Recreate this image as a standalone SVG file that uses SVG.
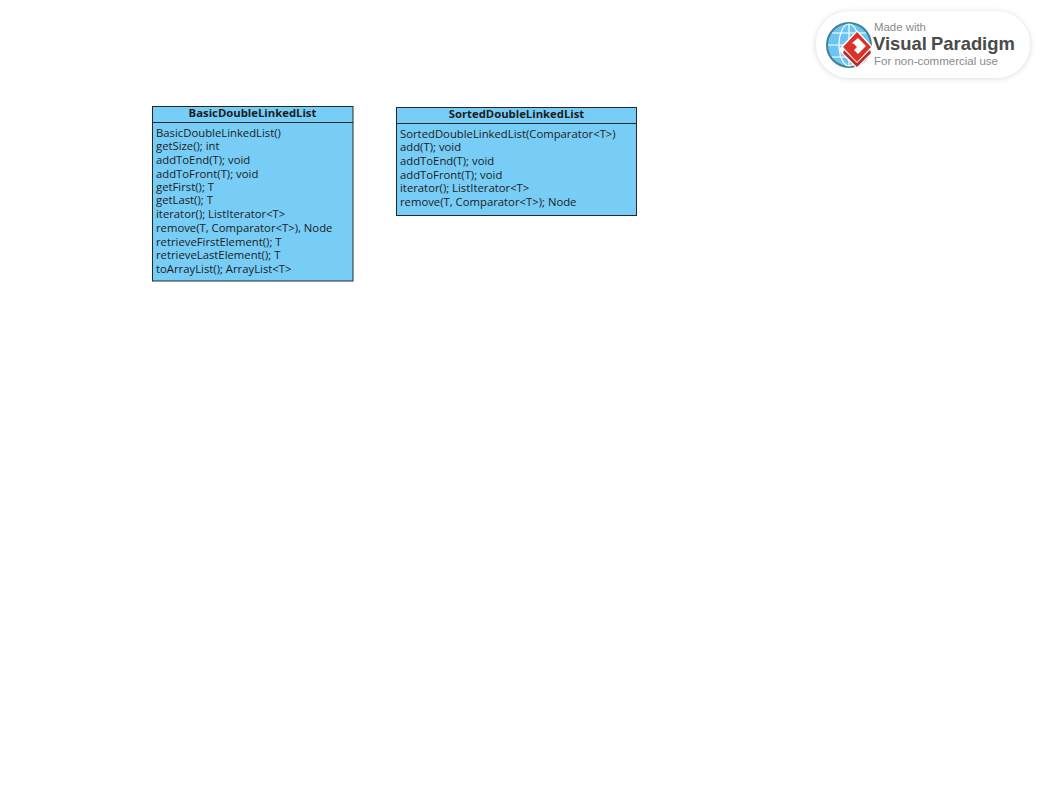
<svg xmlns="http://www.w3.org/2000/svg" width="1040" height="804" viewBox="0 0 1040 804">
<style>
text{font-family:"Open Sans","Noto Sans","DejaVu Sans",sans-serif;fill:#1c1c1c}
.box{fill:#77cdf6;stroke:#1f2a30;stroke-width:1}
.sep{stroke:#1f2a30;stroke-width:1}
.title{font-size:11.3px;font-weight:700;text-anchor:middle}
.m{font-size:11.3px}
.logo{font-family:"Liberation Sans",Arial,sans-serif}
</style>
<defs>
<filter id="soft" x="-20%" y="-30%" width="140%" height="160%"><feGaussianBlur stdDeviation="3"/></filter>
<filter id="b" x="-10%" y="-10%" width="120%" height="120%"><feGaussianBlur stdDeviation="0.5"/></filter>
</defs>
<rect width="1040" height="804" fill="#ffffff"/>
<g id="BasicDoubleLinkedList">
<rect class="box" x="152.500" y="106.500" width="200.500" height="174.500"/>
<line class="sep" x1="152.500" y1="122.500" x2="353" y2="122.500"/>
<text class="title" x="252.500" y="117">BasicDoubleLinkedList</text>
<text class="m" x="156" y="137">BasicDoubleLinkedList()</text>
<text class="m" x="156" y="150">getSize(); int</text>
<text class="m" x="156" y="164">addToEnd(T); void</text>
<text class="m" x="156" y="178">addToFront(T); void</text>
<text class="m" x="156" y="191">getFirst(); T</text>
<text class="m" x="156" y="204">getLast(); T</text>
<text class="m" x="156" y="218">iterator(); ListIterator&lt;T&gt;</text>
<text class="m" x="156" y="232">remove(T, Comparator&lt;T&gt;), Node</text>
<text class="m" x="156" y="246">retrieveFirstElement(); T</text>
<text class="m" x="156" y="259">retrieveLastElement(); T</text>
<text class="m" x="156" y="273">toArrayList(); ArrayList&lt;T&gt;</text>
</g>
<g id="SortedDoubleLinkedList">
<rect class="box" x="396.500" y="107.500" width="240" height="108"/>
<line class="sep" x1="396.500" y1="123.500" x2="636.500" y2="123.500"/>
<text class="title" x="516.500" y="118">SortedDoubleLinkedList</text>
<text class="m" x="400" y="138">SortedDoubleLinkedList(Comparator&lt;T&gt;)</text>
<text class="m" x="400" y="151">add(T); void</text>
<text class="m" x="400" y="165">addToEnd(T); void</text>
<text class="m" x="400" y="179">addToFront(T); void</text>
<text class="m" x="400" y="192">iterator(); ListIterator&lt;T&gt;</text>
<text class="m" x="400" y="206">remove(T, Comparator&lt;T&gt;); Node</text>
</g>
<g id="connectors"></g>
<g id="badge">
<rect x="816" y="12" width="214" height="66" rx="33" fill="#000" opacity="0.16" filter="url(#soft)"/>
<rect x="816" y="11" width="214" height="67" rx="33" fill="#fff"/>
<g filter="url(#b)">
<circle cx="849" cy="45" r="22" fill="#6cc4f4" stroke="#3f8296" stroke-width="2"/>
<g fill="none" stroke="#fff" stroke-width="1.200">
<ellipse cx="849" cy="45" rx="10" ry="21"/>
<line x1="849" y1="24" x2="849" y2="66"/>
<line x1="828" y1="45" x2="870" y2="45"/>
<path d="M832 33H866M832 57H866"/>
</g>
<path d="M857 30L874 48L874 52L857 69L840 52L840 48Z" fill="#fff"/>
<path d="M857 32L871 47L857 62L843 47Z" fill="#d8302c"/>
<path d="M844 50L857 63L870 50L871 53L857 67L843 53Z" fill="#c02a28"/>
<path d="M858 38L866 46L858 54L854 50L857 47L854 44L852 43Z" fill="#fff"/>
</g>
<text class="logo" x="874" y="31.200" font-size="11.400" style="fill:#8a8a8a">Made with</text>
<text class="logo" x="873" y="50.300" font-size="18.400" font-weight="700" style="fill:#4a4a4a">Visual</text>
<text class="logo" x="931" y="50.300" font-size="18.400" font-weight="700" style="fill:#4a4a4a">Paradigm</text>
<text class="logo" x="874" y="64.700" font-size="11.500" style="fill:#8a8a8a">For non-commercial use</text>
</g>
</svg>
